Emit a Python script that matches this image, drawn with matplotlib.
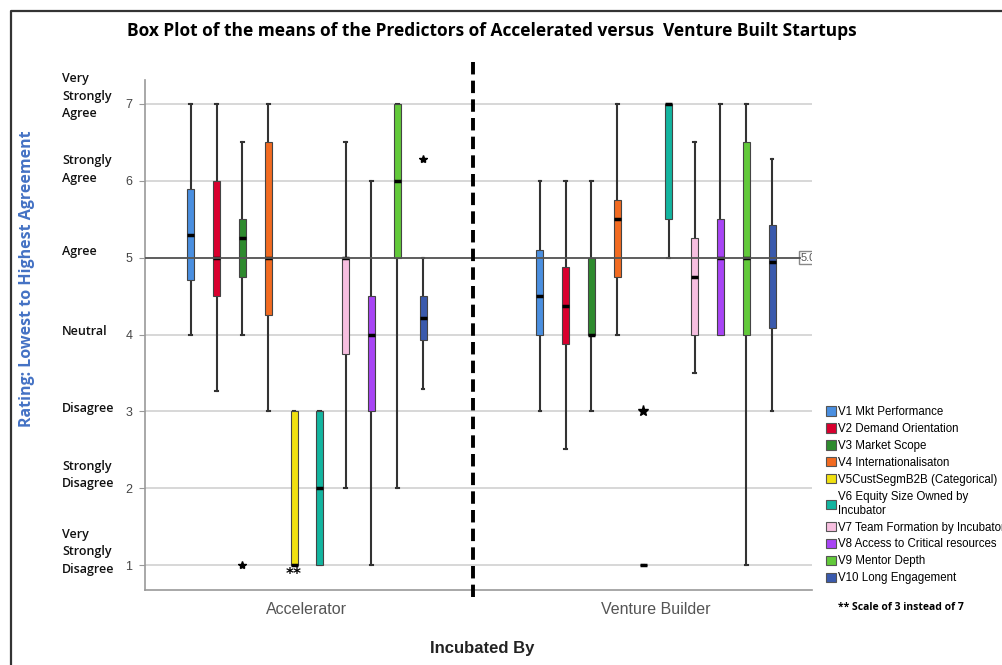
import matplotlib
matplotlib.use("Agg")
import matplotlib.pyplot as plt
import matplotlib.transforms as mtransforms
from matplotlib.patches import Patch
from matplotlib.lines import Line2D

# ---------------- data ----------------
title = "Box Plot of the means of the Predictors of Accelerated versus  Venture Built Startups"
groups = ["Accelerator", "Venture Builder"]
variables = ["V1 Mkt Performance", "V2 Demand Orientation", "V3 Market Scope",
             "V4 Internationalisaton", "V5CustSegmB2B (Categorical)",
             "V6 Equity Size Owned by\nIncubator", "V7 Team Formation by Incubator",
             "V8 Access to Critical resources", "V9 Mentor Depth", "V10 Long Engagement"]
colors = ["#4a8fe0", "#d9002e", "#2e8b2e", "#f26b21", "#f0e010",
          "#13b5a0", "#f7bfe0", "#a845f5", "#62c93a", "#3a5aad"]

acc_whislo = [4.0, 3.26, 4.0, 3.0, 1.0, 1.0, 2.0, 1.0, 2.0, 3.29]
acc_q1     = [4.71, 4.5, 4.75, 4.26, 1.0, 1.0, 3.75, 3.0, 5.0, 3.93]
acc_med    = [5.30, 5.0, 5.25, 5.0, 1.0, 2.0, 5.0, 4.0, 6.0, 4.22]
acc_q3     = [5.90, 6.0, 5.50, 6.50, 3.0, 3.0, 5.0, 4.5, 7.0, 4.5]
acc_whishi = [7.0, 7.0, 6.51, 7.0, 3.0, 3.0, 6.5, 6.0, 7.0, 5.0]
acc_fliers = [[], [], [1.0], [], [], [], [], [], [], [6.28]]

vb_whislo = [3.0, 2.51, 3.0, 4.0, 1.0, 5.0, 3.5, 4.0, 1.0, 3.0]
vb_q1     = [4.0, 3.87, 4.0, 4.75, 1.0, 5.5, 4.0, 4.0, 4.0, 4.08]
vb_med    = [4.5, 4.37, 4.0, 5.5, 1.0, 7.0, 4.75, 5.0, 5.0, 4.94]
vb_q3     = [5.10, 4.88, 5.0, 5.75, 1.0, 7.0, 5.25, 5.5, 6.5, 5.42]
vb_whishi = [6.0, 6.0, 6.0, 7.0, 1.0, 7.0, 6.5, 7.0, 7.0, 6.29]
vb_fliers = [[], [], [], [], [3.0], [], [], [], [], []]

rating_ticks = [1, 2, 3, 4, 5, 6, 7]
rating_words = ["Very\nStrongly\nDisagree", "Strongly\nDisagree", "Disagree", "Neutral",
                "Agree", "Strongly\nAgree", "Very\nStrongly\nAgree"]
reference_value = 5.0

# ---------------- figure ----------------
W, H = 1002, 665
fig = plt.figure(figsize=(W / 100, H / 100), dpi=100)
fig.patch.set_facecolor("white")

def fx(px):
    return px / W

def fy(py):
    return 1 - py / H

ax = fig.add_axes([fx(145), fy(590), fx(812) - fx(145), fy(80) - fy(590)])
ax.set_ylim(0.675, 7.312)
ax.set_xlim(-0.464, 1.447)

spacing = 0.0739
offsets = [(i - 4.5) * spacing for i in range(len(variables))]

group_stats = [
    (acc_whislo, acc_q1, acc_med, acc_q3, acc_whishi, acc_fliers),
    (vb_whislo, vb_q1, vb_med, vb_q3, vb_whishi, vb_fliers),
]

for gi, (lo, q1, med, q3, hi, fl) in enumerate(group_stats):
    for vi in range(len(variables)):
        st = [dict(whislo=lo[vi], q1=q1[vi], med=med[vi], q3=q3[vi], whishi=hi[vi],
                   fliers=fl[vi], label=variables[vi])]
        big = gi == 1
        bp = ax.bxp(st, positions=[gi + offsets[vi]], widths=0.02, patch_artist=True,
                    manage_ticks=False, capwidths=0.008,
                    boxprops=dict(facecolor=colors[vi], edgecolor="#444444", linewidth=0.8),
                    whiskerprops=dict(color="#333333", linewidth=1.5),
                    capprops=dict(color="#333333", linewidth=1.5),
                    medianprops=dict(color="black", linewidth=2.5, solid_capstyle="butt"),
                    flierprops=dict(marker="*", markersize=8 if big else 6,
                                    markerfacecolor="black", markeredgecolor="black",
                                    linestyle="none"))
        for w in bp["whiskers"] + bp["caps"]:
            w.set_zorder(2)
        for b in bp["boxes"]:
            b.set_zorder(3)
        for m in bp["medians"]:
            m.set_zorder(4)

# gridlines
for t in rating_ticks:
    ax.axhline(t, color="#d4d4d4", linewidth=1.3, zorder=0)

# reference line
ax.axhline(reference_value, xmin=0, xmax=(800 - 145) / (812 - 145), color="#555555",
           linewidth=1.3, zorder=5)
x_lab = -0.464 + (801 - 145) / (812 - 145) * (1.447 + 0.464)
ax.text(x_lab, reference_value, "5.0", fontsize=8, color="#555555", va="center", ha="left",
        fontfamily="Liberation Sans", clip_on=True,
        bbox=dict(boxstyle="square,pad=0.15", facecolor="white", edgecolor="#888888",
                  linewidth=1))

# spines
for s in ["top", "right"]:
    ax.spines[s].set_visible(False)
for s in ["left", "bottom"]:
    ax.spines[s].set_color("#999999")
    ax.spines[s].set_linewidth(1.2)

ax.set_yticks(rating_ticks)
ax.set_yticklabels([str(t) for t in rating_ticks], fontsize=9, color="#444444",
                   fontfamily="Liberation Sans")
ax.tick_params(axis="y", length=4, color="#999999", pad=5)
ax.set_xticks([0, 1])
ax.set_xticklabels(groups, fontsize=11.5, color="#555555", fontfamily="Liberation Sans")
ax.tick_params(axis="x", length=0, pad=9)

# word labels for ratings
word_y_shift = [0.17, 0.17, 0.04, 0.04, 0.08, 0.15, 0.1]
word_tr = mtransforms.blended_transform_factory(fig.transFigure, ax.transData)
for t, wd, sh in zip(rating_ticks, rating_words, word_y_shift):
    ax.text(fx(62), t + sh, wd, transform=word_tr,
            fontsize=9, fontfamily="Open Sans", fontweight="semibold", color="#111111",
            ha="left", va="center", linespacing=1.45)

# y label
fig.text(fx(27), fy(279), "Rating: Lowest to Highest Agreement", rotation=90,
         fontsize=11.5, fontweight="bold", color="#4472c4", fontfamily="Open Sans",
         ha="center", va="center")

# x label
fig.text(fx(482), fy(648), "Incubated By", fontsize=12, fontweight="bold",
         color="#222222", fontfamily="Liberation Sans", ha="center", va="center")

# title
fig.text(fx(492), fy(31), title, fontsize=12.5, fontweight="bold", color="black",
         fontfamily="Open Sans", ha="center", va="center")

# dashed separator
fig.add_artist(Line2D([fx(473), fx(473)], [fy(62), fy(597)], color="black",
                      linewidth=2.8, linestyle=(0, (3.2, 1.6))))

# "**" annotation below V5 Accelerator
ax.text(0 + offsets[4], 0.88, "**", fontsize=11, fontweight="bold", ha="center",
        va="center", color="black")

# frame around the figure
fig.add_artist(Line2D([fx(11), fx(11), 0.999], [0.0, fy(11), fy(11)], color="#333333",
                      linewidth=1.6))

# legend
handles = [Patch(facecolor=c, edgecolor="#555555", linewidth=0.8) for c in colors]
fig.legend(handles, variables, loc="upper left", bbox_to_anchor=(fx(826), fy(406)),
           frameon=False, prop=dict(family="Liberation Sans", size=8.3),
           handlelength=0.85, handleheight=0.85, handletextpad=0.2, labelspacing=0.43,
           borderaxespad=0, borderpad=0)

fig.text(fx(838), fy(607), "** Scale of 3 instead of 7", fontsize=7.5, fontweight="bold",
         fontfamily="Open Sans", ha="left", va="center", color="black")

fig.savefig("out.png", dpi=100, facecolor="white")
